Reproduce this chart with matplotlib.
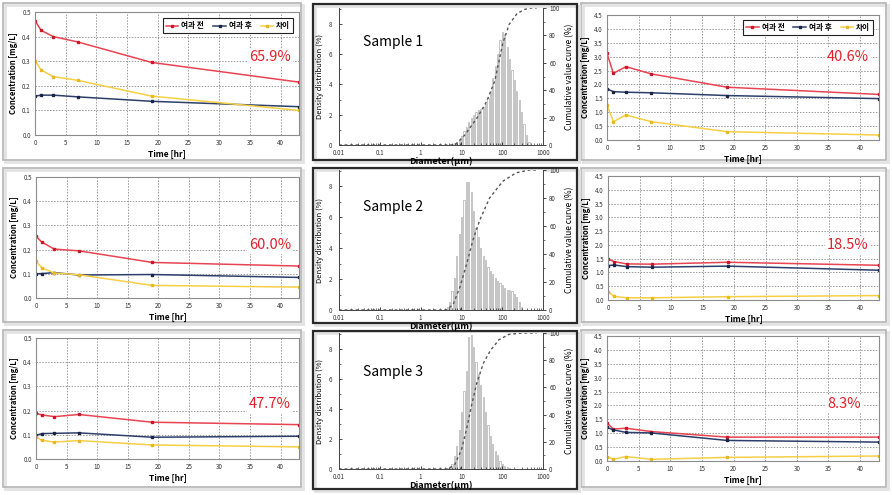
import matplotlib.pyplot as plt
import numpy as np
from matplotlib.patches import Rectangle

plt.rcParams['font.family'] = ['Noto Sans CJK KR', 'DejaVu Sans']

W, H = 892, 495

# ---- concentration data (time in hours) ----
hours = [0, 1, 3, 7, 19, 43]
labels = ['여과 전', '여과 후', '차이']

low1_before = [0.465, 0.425, 0.400, 0.378, 0.295, 0.215]
low1_after = [0.158, 0.162, 0.162, 0.155, 0.137, 0.115]
low1_diff = [0.302, 0.264, 0.237, 0.222, 0.158, 0.100]

low2_before = [0.255, 0.230, 0.202, 0.195, 0.147, 0.132]
low2_after = [0.100, 0.101, 0.105, 0.095, 0.097, 0.085]
low2_diff = [0.151, 0.124, 0.103, 0.096, 0.052, 0.045]

low3_before = [0.189, 0.182, 0.175, 0.184, 0.152, 0.142]
low3_after = [0.098, 0.105, 0.106, 0.108, 0.090, 0.094]
low3_diff = [0.091, 0.077, 0.070, 0.076, 0.058, 0.050]

high1_before = [3.12, 2.40, 2.64, 2.38, 1.90, 1.64]
high1_after = [1.84, 1.74, 1.72, 1.70, 1.60, 1.49]
high1_diff = [1.26, 0.66, 0.90, 0.66, 0.30, 0.18]

high2_before = [1.49, 1.39, 1.31, 1.30, 1.37, 1.26]
high2_after = [1.25, 1.27, 1.21, 1.19, 1.23, 1.08]
high2_diff = [0.30, 0.13, 0.08, 0.08, 0.12, 0.16]

high3_before = [1.37, 1.15, 1.18, 1.06, 0.86, 0.86]
high3_after = [1.21, 1.12, 1.03, 1.01, 0.74, 0.68]
high3_diff = [0.16, 0.06, 0.16, 0.06, 0.13, 0.18]

removal = ['65.9%', '60.0%', '47.7%', '40.6%', '18.5%', '8.3%']

# ---- particle size distributions ----
sizes_um = [3.409, 3.905, 4.472, 5.122, 5.867, 6.720, 7.697, 8.816, 10.097,
            11.565, 13.246, 15.172, 17.377, 19.904, 22.797, 26.111, 29.907,
            34.255, 39.234, 44.938, 51.471, 58.953, 67.523, 77.339, 88.583,
            101.46, 116.21, 133.10, 152.45, 174.61, 200.00, 229.08, 262.38,
            300.52, 344.21, 394.25, 451.56]

dens1 = [0, 0, 0, 0, 0.05, 0.1, 0.2, 0.35, 0.6, 0.9, 1.2, 1.5, 1.8, 2.0, 2.2,
         2.3, 2.4, 2.5, 2.7, 3.1, 3.6, 4.4, 5.2, 6.0, 6.95, 7.45, 7.3, 6.5,
         5.7, 4.95, 4.3, 3.6, 3.0, 2.2, 1.4, 0.65, 0.2]
dens2 = [0, 0.05, 0.2, 0.5, 1.2, 2.1, 3.5, 4.9, 6.0, 7.1, 8.3, 8.3, 7.6, 6.4,
         5.3, 4.7, 4.0, 3.5, 3.2, 2.8, 2.55, 2.3, 2.1, 1.9, 1.75, 1.6, 1.4,
         1.3, 1.3, 1.2, 1.05, 0.85, 0.5, 0.2, 0, 0, 0]
dens3 = [0, 0, 0.05, 0.1, 0.3, 0.85, 1.5, 2.6, 3.8, 5.2, 6.5, 8.8, 8.9, 8.1,
         7.1, 6.3, 5.6, 4.8, 3.8, 2.9, 2.2, 1.65, 1.2, 0.9, 0.55, 0.33, 0.2,
         0.1, 0.05, 0, 0, 0, 0, 0, 0, 0, 0]

cum1_d = [0.01, 7, 11.9, 24.5, 42, 66, 103, 148, 232, 358, 500, 700]
cum1_p = [0, 0, 7, 20, 32, 47, 74, 88, 96, 99, 100, 100]
cum2_d = [0.01, 4.3, 6.3, 9.1, 13.2, 19.2, 28, 49, 104, 220, 465, 700]
cum2_p = [0, 0, 4, 16, 32, 50, 64, 80, 92, 98, 100, 100]
cum3_d = [0.01, 4.6, 6.8, 10, 13.3, 17.8, 23.7, 34.8, 51, 83, 146, 316, 700]
cum3_p = [0, 0, 3, 14, 29, 47, 63, 78, 87, 95, 99, 100, 100]

RED = '#e84452'
NAVY = '#2c3f6b'
YELLOW = '#f6cf45'


def box(x0, y0, x1, y1):
    return [x0 / W, 1 - y1 / H, (x1 - x0) / W, (y1 - y0) / H]


fig = plt.figure(figsize=(W / 100, H / 100), dpi=100)
fig.patch.set_facecolor('white')


def frame(x0, y0, x1, y1, color, lw):
    # soft shadow then border
    fig.add_artist(Rectangle((x0 / W + 2 / W, 1 - y1 / H - 2 / H), (x1 - x0) / W, (y1 - y0) / H,
                             transform=fig.transFigure, fill=False, ec='#e2e2e2', lw=2, zorder=0))
    fig.add_artist(Rectangle((x0 / W, 1 - y1 / H), (x1 - x0) / W, (y1 - y0) / H,
                             transform=fig.transFigure, fill=False, ec=color, lw=lw, zorder=0))


for y0, y1 in [(3, 160), (168, 322), (330, 487)]:
    frame(3, y0, 301, y1, '#b4b4b4', 1.2)
    frame(581, y0, 886, y1, '#b4b4b4', 1.2)
for y0, y1 in [(4, 160), (168, 323), (331, 489)]:
    frame(313, y0, 577, y1, '#2a2a2a', 1.6)


def time_panel(rect, before, after, diff, ytop, ystep, pct, pct_xy, legend_anchor=None):
    ax = fig.add_axes(box(*rect))
    ax.plot(hours, before, color=RED, lw=1.1, marker='s', ms=1.8, mfc='#c8182a', mec='#c8182a', label=labels[0])
    ax.plot(hours, after, color=NAVY, lw=1.1, marker='s', ms=1.8, mfc='#1a2545', mec='#1a2545', label=labels[1])
    ax.plot(hours, diff, color=YELLOW, lw=1.1, marker='s', ms=1.8, mfc='#e8b820', mec='#e8b820', label=labels[2])
    ax.set_xlim(0, 43)
    ax.set_ylim(0, ytop)
    ax.set_xticks(np.arange(0, 41, 5))
    ax.set_yticks(np.arange(0, ytop + 1e-9, ystep))
    ax.yaxis.set_major_formatter('{x:.1f}')
    ax.grid(True, ls=(0, (1.5, 1.5)), color='#9a9a9a', lw=0.7)
    ax.set_axisbelow(True)
    ax.tick_params(length=0, labelsize=4.5, pad=3, labelcolor='#333333')
    for s in ax.spines.values():
        s.set_color('#8c8c8c')
        s.set_linewidth(0.8)
    ax.set_xlabel('Time [hr]', fontsize=6, fontweight='bold', labelpad=2)
    ax.set_ylabel('Concentration [mg/L]', fontsize=5.5, fontweight='bold', labelpad=3)
    if legend_anchor is not None:
        leg = ax.legend(loc='upper right', bbox_to_anchor=legend_anchor, borderaxespad=0,
                        ncol=3, handlelength=1.6, columnspacing=1.2,
                        handletextpad=0.4, fancybox=False, framealpha=1,
                        prop={'weight': 'bold', 'size': 5.5})
        leg.get_frame().set_edgecolor('#222222')
        leg.get_frame().set_linewidth(0.8)
    fig.text(pct_xy[0] / W, 1 - pct_xy[1] / H, pct, color='#e0202a', fontsize=10.5,
             ha='center', va='center',
             bbox=dict(facecolor='white', edgecolor='none', pad=1.5))
    return ax


time_panel((35, 12, 299, 135), low1_before, low1_after, low1_diff, 0.5, 0.1,
           removal[0], (270, 57), legend_anchor=(0.977, 0.95))
time_panel((36, 177, 299, 298), low2_before, low2_after, low2_diff, 0.5, 0.1,
           removal[1], (270, 245))
time_panel((36, 338, 299, 459), low3_before, low3_after, low3_diff, 0.5, 0.1,
           removal[2], (270, 404))
time_panel((607, 15, 879, 140), high1_before, high1_after, high1_diff, 4.5, 0.5,
           removal[3], (848, 57), legend_anchor=(0.978, 0.96))
time_panel((608, 176, 879, 300), high2_before, high2_after, high2_diff, 4.5, 0.5,
           removal[4], (848, 245))
time_panel((607, 336, 879, 461), high3_before, high3_after, high3_diff, 4.5, 0.5,
           removal[5], (844, 404))


def size_panel(rect, dens, cum_d, cum_p, name, name_xy):
    ax = fig.add_axes(box(*rect))
    d = np.array(sizes_um)
    ax.bar(d, dens, width=d * 0.07, color='white', edgecolor='#a4a4a4', lw=0.45)
    ax.set_xscale('log')
    ax.set_xlim(0.01, 1000)
    ax.set_ylim(0, 9.05)
    ax.set_yticks([0, 2, 4, 6, 8])
    ax.set_yticks([1, 3, 5, 7, 9], minor=True)
    ax.tick_params(axis='both', which='both', direction='in', labelsize=4.5,
                   labelcolor='#333333')
    ax.tick_params(axis='y', pad=5)
    ax.tick_params(axis='x', pad=3)
    ax.tick_params(which='major', length=2.5, width=0.5)
    ax.tick_params(which='minor', length=1.5, width=0.4)
    ax.set_xticks([0.01, 0.1, 1, 10, 100, 1000])
    ax.set_xticklabels(['0.01', '0.1', '1', '10', '100', '1000'])
    ax.spines['top'].set_visible(False)
    for s in ['left', 'bottom', 'right']:
        ax.spines[s].set_color('#444444')
        ax.spines[s].set_linewidth(0.6)
    ax.set_ylabel('Density distribution (%)', fontsize=5.5, labelpad=3)
    ax.set_xlabel('Diameter(μm)', fontsize=6.5, fontweight='bold', labelpad=0)

    ax2 = ax.twinx()
    ax2.plot(cum_d, cum_p, color='#555555', lw=1.0, ls=(0, (2, 2)))
    ax2.set_ylim(0, 100)
    ax2.set_yticks(np.arange(0, 101, 20))
    ax2.set_yticks(np.arange(10, 100, 20), minor=True)
    ax2.tick_params(axis='y', which='both', direction='out', labelsize=4.5, pad=2,
                    labelcolor='#333333')
    ax2.tick_params(which='major', length=2.5, width=0.5)
    ax2.tick_params(which='minor', length=1.5, width=0.4)
    ax2.spines['top'].set_visible(False)
    for s in ['left', 'bottom', 'right']:
        ax2.spines[s].set_color('#444444')
        ax2.spines[s].set_linewidth(0.6)
    ax2.set_ylabel('Cumulative value curve (%)', fontsize=6, labelpad=4)
    fig.text(name_xy[0] / W, 1 - name_xy[1] / H, name, fontsize=10, ha='left', va='center')


size_panel((339, 8, 543, 145), dens1, cum1_d, cum1_p, 'Sample 1', (363, 42))
size_panel((339, 170, 543, 310), dens2, cum2_d, cum2_p, 'Sample 2', (363, 207))
size_panel((339, 333, 543, 469), dens3, cum3_d, cum3_p, 'Sample 3', (363, 372))

fig.savefig('out.png', dpi=100, facecolor='white')
